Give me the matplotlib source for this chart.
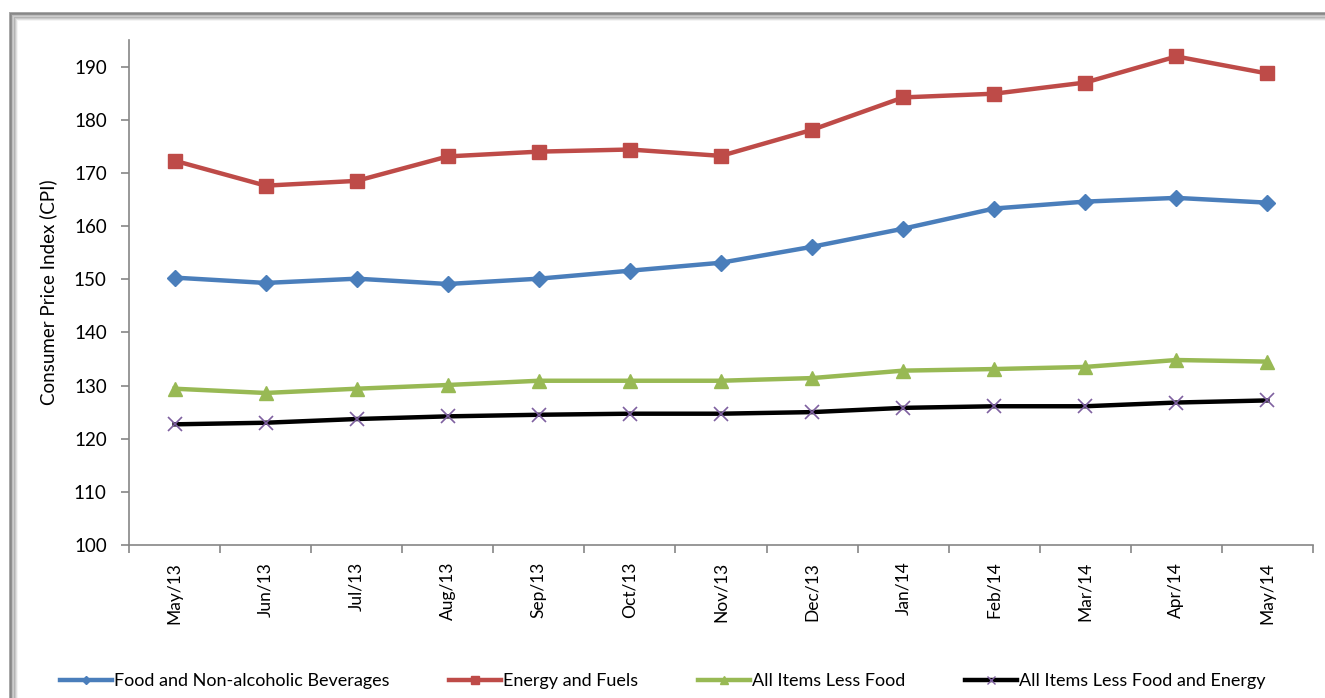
import matplotlib
matplotlib.use("Agg")
import matplotlib.pyplot as plt
from matplotlib.lines import Line2D
from matplotlib.patches import Rectangle
import numpy as np

plt.rcParams['font.family'] = ['Lato', 'DejaVu Sans']

months = ["May/13", "Jun/13", "Jul/13", "Aug/13", "Sep/13", "Oct/13", "Nov/13",
          "Dec/13", "Jan/14", "Feb/14", "Mar/14", "Apr/14", "May/14"]
food = [150.3, 149.3, 150.1, 149.1, 150.1, 151.6, 153.1, 156.1, 159.5, 163.3, 164.6, 165.3, 164.4]
energy = [172.3, 167.6, 168.5, 173.1, 174.0, 174.4, 173.2, 178.1, 184.2, 184.9, 187.0, 191.9, 188.7]
less_food = [129.4, 128.6, 129.4, 130.1, 130.9, 130.9, 130.9, 131.4, 132.8, 133.1, 133.5, 134.8, 134.5]
less_food_energy = [122.7, 123.0, 123.7, 124.2, 124.5, 124.7, 124.7, 125.0, 125.8, 126.1, 126.1, 126.8, 127.2]
series_names = ["Food and Non-alcoholic Beverages", "Energy and Fuels",
                "All Items Less Food", "All Items Less Food and Energy"]

fig = plt.figure(figsize=(13.25, 6.98), dpi=100)
fig.patch.set_facecolor('white')

# shadowed frame
for i, a in enumerate([0.6, 0.55, 0.45, 0.35, 0.25, 0.15, 0.07]):
    off = i * 1.2 / 1325
    offy = i * 1.2 / 698
    fig.add_artist(Rectangle((10 / 1325 + off, -0.1), 1.2, (1 - 13 / 698 - offy) + 0.1,
                             transform=fig.transFigure, fill=False,
                             edgecolor=(0.42, 0.42, 0.42, a), linewidth=1.4))

ax = fig.add_axes([129 / 1325, 1 - 545 / 698, (1313 - 129) / 1325, (545 - 40) / 698])
x = np.arange(len(months))

blue = '#4A7EBB'
red = '#BE4B48'
green = '#98B954'
purple = '#7E60A0'

ax.plot(x, food, color=blue, lw=3.2, marker='D', ms=8.5, mfc=blue, mec=blue, zorder=3)
ax.plot(x, energy, color=red, lw=3.2, marker='s', ms=10.5, mfc=red, mec=red, zorder=3)
ax.plot(x, less_food, color=green, lw=3.2, marker='^', ms=10, mfc=green, mec=green, zorder=3)
ax.plot(x, less_food_energy, color='black', lw=3.2, zorder=3)
ax.plot(x, less_food_energy, ls='none', marker='x', ms=10, mew=1.2, color=purple, zorder=4)

ax.set_xlim(-0.5, len(months) - 0.5)
ax.set_ylim(100, 195)
ax.set_yticks(np.arange(100, 191, 10))
ax.set_xticks(x)
ax.set_xticklabels(months, rotation=90, fontsize=12.5)
ax.set_xticks(np.arange(-0.5, len(months), 1), minor=True)
ax.tick_params(axis='x', which='major', length=0, pad=12)
ax.tick_params(axis='x', which='minor', length=6, color='#868686', width=1.2)
ax.tick_params(axis='y', length=6, color='#868686', width=1.2, labelsize=13.5, pad=10)
for s in ['top', 'right']:
    ax.spines[s].set_visible(False)
for s in ['left', 'bottom']:
    ax.spines[s].set_color('#868686')
    ax.spines[s].set_linewidth(1.2)
ax.set_ylabel("Consumer Price Index (CPI)", fontsize=13.5, labelpad=12)

handles = [
    Line2D([], [], color=blue, lw=3.2, marker='D', ms=4, mfc=blue, mec=blue),
    Line2D([], [], color=red, lw=3.2, marker='s', ms=6, mfc=red, mec=red),
    Line2D([], [], color=green, lw=3.2, marker='^', ms=6, mfc=green, mec=green),
    Line2D([], [], color='black', lw=3.2, marker='x', ms=6, mec=purple, mew=1),
]
fig.legend(handles, series_names, loc='center', bbox_to_anchor=(0.5, 1 - 681 / 698),
           ncol=4, frameon=False, fontsize=13, handlelength=2.9, handletextpad=0.1,
           columnspacing=3.3, numpoints=1)

fig.savefig("out.png", dpi=100, facecolor='white')
